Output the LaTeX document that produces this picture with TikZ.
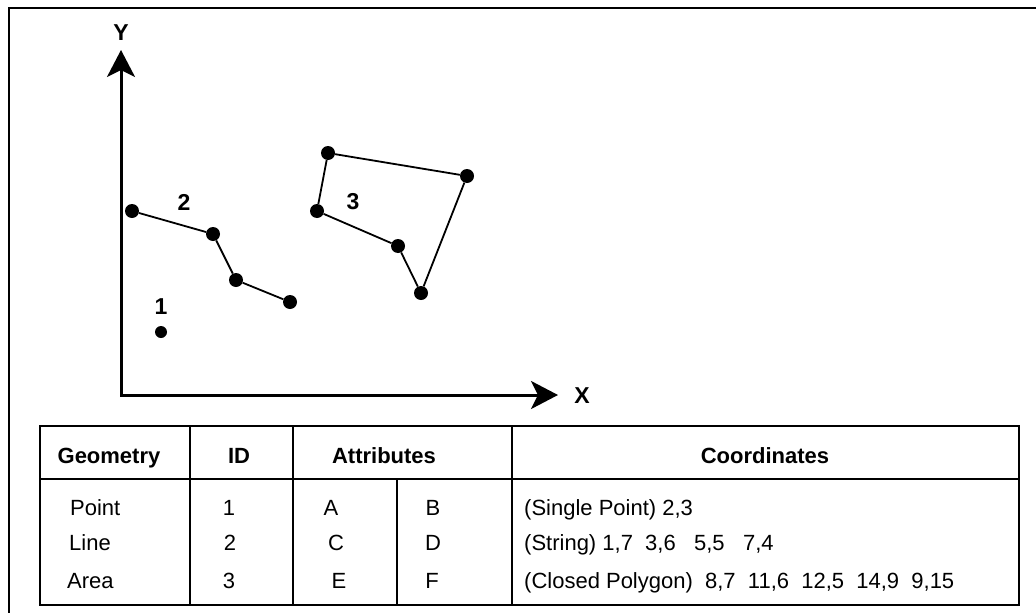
\documentclass[tikz,border=0pt]{standalone}
\usepackage{fontspec}
\setmainfont{Liberation Sans}
\usetikzlibrary{arrows.meta}
\begin{document}
\begin{tikzpicture}[x=1pt,y=-1pt,
  dot/.style={circle,fill=black,inner sep=0pt,minimum size=14pt},
  smalldot/.style={circle,fill=black,inner sep=0pt,minimum size=12pt},
  seg/.style={line width=1.8pt},
  axis/.style={line width=3pt,line join=miter,{Stealth[length=27pt,width=28pt,inset=7pt]}-{Stealth[length=27pt,width=28pt,inset=7pt]}},
  lbl/.style={font=\fontsize{23}{27}\selectfont\bfseries,inner sep=0pt},
  hd/.style={font=\fontsize{22}{26}\selectfont\bfseries,anchor=base,inner sep=0pt},
  cell/.style={font=\fontsize{22}{26}\selectfont,anchor=base,inner sep=0pt},
  cellw/.style={font=\fontsize{22}{26}\selectfont,anchor=base west,inner sep=0pt},
  grid/.style={line width=1.5pt},
  frame/.style={line width=2.4pt}]
\useasboundingbox (0,0) rectangle (1036,613);
% outer frame (top and left visible)
\coordinate (fbl) at (9,613);
\coordinate (ftl) at (9,8);
\coordinate (ftr) at (1036,8);
\draw[line width=2.6pt] (fbl) -- (ftl) -- (ftr);
% axes
\coordinate (O) at (121,395);
\coordinate (ytip) at (121,50);
\coordinate (xtip) at (558,395);
\draw[axis] (ytip) -- (O) -- (xtip);
\node[lbl] (ylab) at (121,33) {Y};
\node[lbl] (xlab) at (582,396) {X};
% point feature
\node[smalldot] (p1) at (161,332) {};
\node[lbl] (n1) at (161,307) {1};
% line feature
\node[dot] (l1) at (132,211) {};
\node[dot] (l2) at (213,234) {};
\node[dot] (l3) at (236,280) {};
\node[dot] (l4) at (290,302) {};
\draw[seg] (l1) -- (l2) -- (l3) -- (l4);
\node[lbl] (n2) at (184,202) {2};
% area feature
\node[dot] (a1) at (317,211) {};
\node[dot] (a2) at (328,153) {};
\node[dot] (a3) at (467,176) {};
\node[dot] (a4) at (421,293) {};
\node[dot] (a5) at (398,246) {};
\draw[seg] (a1) -- (a2) -- (a3) -- (a4) -- (a5) -- (a1);
\node[lbl] (n3) at (353,202) {3};
% table
\coordinate (tl) at (40,426);
\coordinate (br) at (1019,605);
\draw[grid] (40,479) -- (1019,479);
\draw[grid] (190,426) -- (190,605);
\draw[grid] (293,426) -- (293,605);
\draw[grid] (397,479) -- (397,605);
\draw[grid] (512,426) -- (512,605);
\draw[frame] (tl) rectangle (br);
% header
\node[hd] (hgeo) at (109,463) {Geometry};
\node[hd] (hid) at (239,463) {ID};
\node[hd] (hatt) at (384,463) {Attributes};
\node[hd] (hcoo) at (765,463) {Coordinates};
% rows
\node[cellw] (r1a) at (70,515) {Point};
\node[cellw] (r2a) at (69,550) {Line};
\node[cellw] (r3a) at (67,588) {Area};
\node[cell] (r1b) at (229,515) {1};
\node[cell] (r2b) at (230,550) {2};
\node[cell] (r3b) at (229,588) {3};
\node[cell] (r1c) at (331,515) {A};
\node[cell] (r2c) at (336,550) {C};
\node[cell] (r3c) at (339,588) {E};
\node[cell] (r1d) at (433,515) {B};
\node[cell] (r2d) at (433,550) {D};
\node[cell] (r3d) at (432,588) {F};
\node[cellw] (r1e) at (524,515) {(Single Point) 2,3};
\node[cellw] (r2e) at (524,550) {(String) 1,7\ \ 3,6\ \ \ 5,5\ \ \ 7,4};
\node[cellw] (r3e) at (524,588) {(Closed Polygon)\ \ 8,7\ \ 11,6\ \ 12,5\ \ 14,9\ \ 9,15};
\end{tikzpicture}
\end{document}
